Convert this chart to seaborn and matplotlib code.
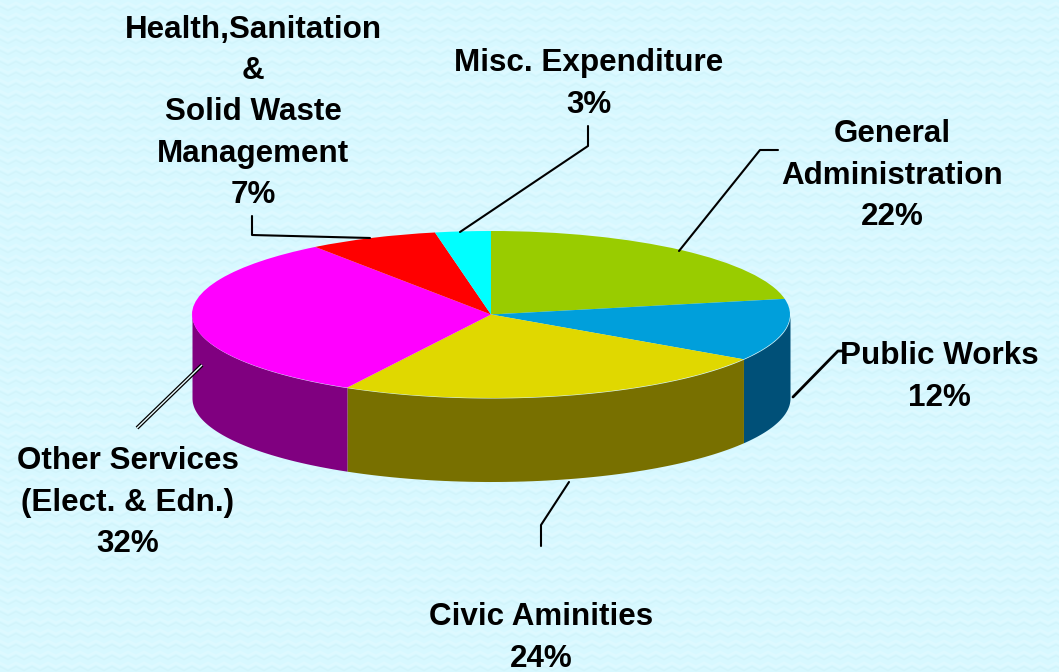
import numpy as np
import matplotlib
matplotlib.use("Agg")
import matplotlib.pyplot as plt
import seaborn as sns

# Expenditure shares, clockwise from 12 o'clock
categories = ["General\nAdministration", "Public Works", "Civic Aminities",
              "Other Services\n(Elect. & Edn.)",
              "Health,Sanitation\n&\nSolid Waste\nManagement", "Misc. Expenditure"]
values = [22, 12, 24, 32, 7, 3]
top_colors = ["#99CC00", "#009FDB", "#E0D800", "#FF00FF", "#FF0000", "#00FFFF"]
side_colors = ["#4D6600", "#005078", "#787000", "#800080", "#800000", "#008080"]

# label centres and leader lines, in pixels of the 1059x672 picture
label_pos = [(892, 175.5), (939, 377), (541, 638), (128, 502.5), (253, 112.5), (589, 84)]
leaders = [
    [(679, 251), (760, 150), (778, 150)],
    [(793, 397), (838, 351), (843, 351)],
    [(569, 482), (541, 525), (541, 546)],
    [(202, 365), (137, 428)],
    [(252, 216), (252, 235), (370, 238)],
    [(460, 232), (588, 146), (588, 126)],
]

W, H = 1059, 672
bg = "#D7F8FF"
depth = 1.0  # wall height, in units of the flattened radius

sns.set_theme(style="white")
plt.rcParams["font.family"] = ["Liberation Sans", "DejaVu Sans"]

fig = plt.figure(figsize=(W / 100, H / 100), dpi=100, facecolor=bg)

# zigzag wallpaper
bg_ax = fig.add_axes([0, 0, 1, 1])
xx = np.arange(-16, W + 16, 8)
zig = np.where(np.arange(len(xx)) % 2 == 0, 0, 4)
for y0 in range(-8, H + 16, 11):
    bg_ax.plot(xx, y0 + zig, color="#DDF9FF", lw=2.2, solid_joinstyle="miter")
    bg_ax.plot(xx, y0 + zig + 3.5, color="#D2F4FB", lw=1.0)
bg_ax.set_xlim(0, W)
bg_ax.set_ylim(H, 0)
bg_ax.set_facecolor(bg)
bg_ax.axis("off")

# pie axes: unit circle squeezed onto the ellipse top of the disc
cx, cy, rx, ry = 491, 314.5, 299, 83.5
ax = fig.add_axes([(cx - rx) / W, 1 - (cy + ry) / H, 2 * rx / W, 2 * ry / H])
ax.patch.set_alpha(0)
wedges, _ = ax.pie(values, colors=top_colors, startangle=90, counterclock=False,
                   radius=1, wedgeprops=dict(linewidth=0))
ax.set_aspect("auto")
ax.set_xlim(-1, 1)
ax.set_ylim(-1, 1)

# side walls below the front half of the rim
edges = 90 - np.cumsum([0] + values) * 3.6
for i in range(len(values)):
    a0, a1 = edges[i + 1], edges[i]
    a0n, a1n = max(a0, -180), min(a1, 0)
    if a1n <= a0n:
        continue
    t = np.radians(np.linspace(a0n, a1n, 80))
    ax.fill_between(np.cos(t), np.sin(t), np.sin(t) - depth, color=side_colors[i],
                    lw=0, clip_on=False, zorder=0.5)

# labels and leaders on a pixel overlay
ov = fig.add_axes([0, 0, 1, 1])
ov.patch.set_alpha(0)
ov.set_xlim(0, W)
ov.set_ylim(H, 0)
ov.axis("off")
for i, pts in enumerate(leaders):
    px, py = zip(*pts)
    if i == 3:
        # double rule for this one
        ov.plot(px, py, color="black", lw=2.8, solid_capstyle="butt")
        ov.plot(px, py, color="#E8FCFF", lw=1.0, solid_capstyle="butt")
    else:
        ov.plot(px, py, color="black", lw=1.5 if i != 1 else 2.0)
for name, v, (x, y) in zip(categories, values, label_pos):
    ov.text(x, y, f"{name}\n{v}%", ha="center", va="center", fontsize=22.6,
            fontweight="bold", color="black", linespacing=1.49)

fig.savefig("out.png", dpi=100, facecolor=bg)
